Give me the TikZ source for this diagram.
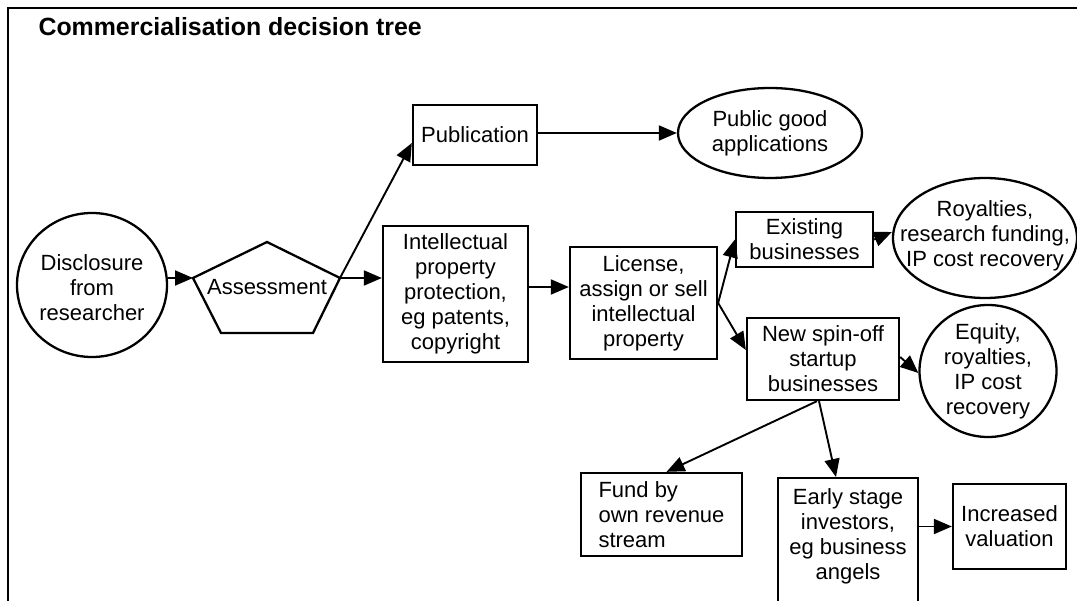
\documentclass[tikz,border=0pt]{standalone}
\usepackage{fontspec}
\setmainfont{Liberation Sans}
\usetikzlibrary{arrows.meta,shapes.geometric,calc}
\begin{document}
\begin{tikzpicture}[x=1pt,y=-1pt,
  every node/.style={font=\fontsize{22}{25}\selectfont},
  box/.style={draw, line width=2.3pt, rectangle, align=center, inner sep=2pt},
  oval/.style={draw, line width=2.3pt, ellipse, inner sep=0pt},
  txt/.style={align=center, inner sep=0pt},
  arr/.style={line width=1.9pt, -{Triangle[length=18pt,width=15pt]}},
  frame/.style={line width=2.4pt}
]
\useasboundingbox (0,0) rectangle (1077,601);
\draw[frame] (8,620) -- (8,8) -- (1100,8);
\node[anchor=base west, font=\bfseries\fontsize{24.9}{29}\selectfont] (title) at (35,36) {Commercialisation decision tree};

% disclosure
\node[oval, minimum width=150pt, minimum height=144pt] (disc) at (92,285) {};
\node[txt] (discT) at (92,288) {Disclosure\\from\\researcher};

% assessment pentagon
\coordinate (pT) at (267,242);
\coordinate (pL) at (193,278);
\coordinate (pR) at (340,278);
\coordinate (pBR) at (313,333);
\coordinate (pBL) at (221,333);
\draw[line width=2.3pt] (pT) -- (pR) -- (pBR) -- (pBL) -- (pL) -- cycle;
\node[txt] (assess) at (267,287) {Assessment};

\node[box, minimum width=124pt, minimum height=60pt] (pub) at (475,135) {Publication};
\node[oval, minimum width=184pt, minimum height=90pt] (good) at (770,133) {};
\node[txt] (goodT) at (770,133) {Public good\\applications};

\node[box, minimum width=145pt, minimum height=136pt] (ip) at (455.5,294) {Intellectual\\property\\protection,\\eg patents,\\copyright};
\node[box, minimum width=147pt, minimum height=112pt] (lic) at (643.5,303) {License,\\assign or sell\\intellectual\\property};

\node[box, minimum width=137pt, minimum height=55pt] (exist) at (804.5,239.5) {Existing\\businesses};
\node[oval, minimum width=184pt, minimum height=120pt] (roy) at (985,238) {};
\node[txt] (royT) at (985,236) {Royalties,\\research funding,\\IP cost recovery};

\node[box, minimum width=152pt, minimum height=82pt] (spin) at (823,359) {New spin-off\\startup\\businesses};
\node[oval, minimum width=137pt, minimum height=132pt] (eq) at (988,371) {};
\node[txt] (eqT) at (988,371) {Equity,\\royalties,\\IP cost\\recovery};

\node[box, align=left, minimum width=161pt, minimum height=83pt] (fund) at (661.5,514.5) {Fund by\\own revenue\\stream};
\node[box, minimum width=140pt, minimum height=150pt, anchor=north] (early) at (848,477) {};
\node[txt] (earlyT) at (848,536) {Early stage\\investors,\\eg business\\angels};
\node[box, minimum width=113pt, minimum height=85pt] (incr) at (1009.5,526.5) {Increased\\valuation};

% connectors
\draw[arr] (disc.east |- pL) -- (pL);
\draw[arr] (pR) -- (pR -| ip.west);
\draw[arr] (pR) -- ([yshift=-8pt]pub.west);
\draw[arr] (pub.east |- good.west) -- (good.west);
\coordinate (a1) at ([yshift=7pt]ip.east);
\draw[arr] (a1) -- (a1 -| lic.west);
\draw[arr] (lic.east) -- (exist.west);
\draw[arr] (lic.east) -- ([yshift=9pt]spin.west);
\draw[arr] (exist.east) -- ([yshift=6pt]roy.west);
\draw[arr] ([yshift=2pt]spin.east) -- ([yshift=-2pt]eq.west);
\draw[arr] ([xshift=-6pt]spin.south) -- ([xshift=5pt]fund.north);
\draw[arr] ([xshift=-4pt]spin.south) -- ([xshift=-12pt]early.north);
\draw[arr] (early.east |- incr.west) -- (incr.west);
\end{tikzpicture}
\end{document}
